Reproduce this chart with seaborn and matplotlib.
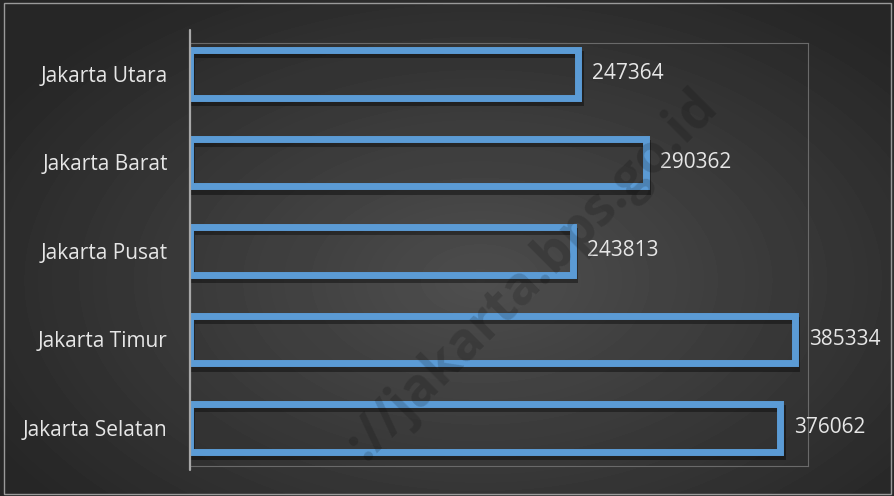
import numpy as np
import pandas as pd
import matplotlib
matplotlib.use("Agg")
import matplotlib.pyplot as plt
import matplotlib.patheffects as pe
from matplotlib.patches import Rectangle
import seaborn as sns

# data
kota = ["Jakarta Utara", "Jakarta Barat", "Jakarta Pusat", "Jakarta Timur", "Jakarta Selatan"]
jumlah = [247364, 290362, 243813, 385334, 376062]

df = pd.DataFrame({"kota": kota, "jumlah": jumlah})

sns.set_style("white")
plt.rcParams["font.family"] = ["Open Sans", "DejaVu Sans"]

fig = plt.figure(figsize=(8.95, 4.96), dpi=100)

# dark radial background
bg = fig.add_axes([0, 0, 1, 1])
yy, xx = np.mgrid[0:496, 0:895]
r = np.sqrt(((xx - 480) / 560.0) ** 2 + ((yy - 280) / 340.0) ** 2)
shade = np.clip(0.31 - 0.16 * r, 0.15, 0.31)
bg.imshow(shade, cmap="gray", vmin=0, vmax=1, aspect="auto", extent=[0, 1, 0, 1])
bg.set_axis_off()
fig.patches.append(Rectangle((0.005, 0.004), 0.99, 0.99, transform=fig.transFigure, fill=False,
                             edgecolor="#9a9a9a", linewidth=1.0, zorder=10))

ax = fig.add_axes([0.2123, 0.0605, 0.6905, 0.8528])
ax.patch.set_alpha(0)

blue = "#5B9BD5"
sns.barplot(data=df, x="jumlah", y="kota", orient="h", color=blue,
            width=0.54, linewidth=5, edgecolor=blue, ax=ax)
for p in ax.patches:
    p.set_facecolor((0.2, 0.2, 0.2, 0.08))
    p.set_path_effects([pe.SimpleLineShadow(offset=(1, -3), shadow_color="black", alpha=0.4),
                        pe.Normal()])

for i, v in enumerate(jumlah):
    ax.annotate(str(v), xy=(v, i), xytext=(10, 0), textcoords="offset points",
                ha="left", va="center", color="#e6e6e6", fontsize=15)

ax.set_xlim(0, 393600)
ax.set_ylim(4.43, -0.35)
ax.set_xlabel("")
ax.set_ylabel("")
ax.set_xticks([])
ax.tick_params(axis="y", length=0, pad=16, labelcolor="#e6e6e6", labelsize=15)
for s in ["top", "right", "bottom"]:
    ax.spines[s].set_color("#6a6a6a")
    ax.spines[s].set_linewidth(0.8)
ax.spines["left"].set_visible(False)
ax.axvline(0, ymin=-0.01, ymax=1.03, color="#a8a8a8", linewidth=1.6, clip_on=False, zorder=5)

# watermark
fig.text(0.595, 0.445, "://jakarta.bps.go.id", rotation=45, ha="center", va="center",
         fontsize=38, fontweight="bold", color="black", alpha=0.16, zorder=20)

fig.savefig("out.png", dpi=100)
